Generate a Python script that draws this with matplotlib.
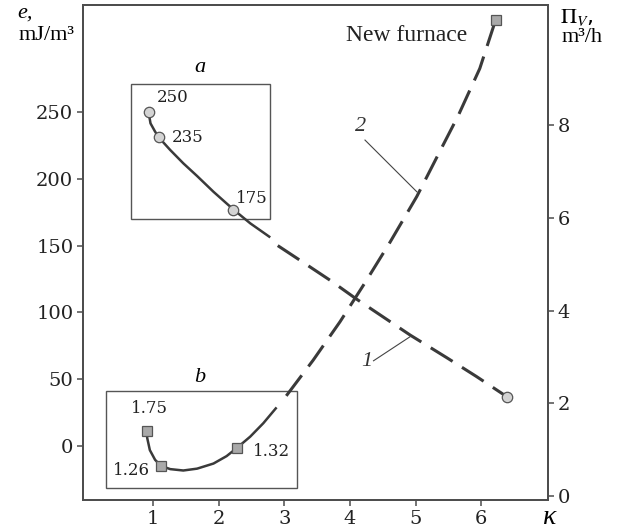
import matplotlib
matplotlib.use("Agg")
import matplotlib.pyplot as plt
from matplotlib.patches import Rectangle

plt.rcParams['lines.scale_dashes'] = False

# curve 1: specific energy e, mJ/m3 (left axis)
k1_solid = [0.93, 0.96, 1.03, 1.09, 1.26, 1.46, 1.67, 1.92, 2.22, 2.48, 2.77]
e1_solid = [250, 241.5, 235.3, 230.8, 221.6, 211.6, 202.1, 190.3, 177.2, 166.7, 156.7]
k1_dash = [2.90, 3.24, 3.70, 4.10, 4.92, 5.48, 5.93, 6.39]
e1_dash = [150, 139, 124, 110, 83, 66, 52, 37]
k1_pts = [0.93, 1.09, 2.22, 6.39]
e1_pts = [250, 231, 177, 37]
e1_labels = ["250", "235", "175"]

# curve 2: productivity Pi_V, m3/h (right axis)
k2_solid = [0.90, 0.91, 0.95, 1.03, 1.12, 1.26, 1.46, 1.67, 1.92, 2.12, 2.28, 2.48, 2.68, 2.87]
v2_solid = [1.40, 1.25, 0.99, 0.78, 0.65, 0.58, 0.55, 0.59, 0.70, 0.86, 1.04, 1.28, 1.57, 1.89]
k2_dash = [3.03, 3.44, 3.85, 4.23, 4.61, 5.02, 5.37, 5.65, 5.98, 6.22]
v2_dash = [2.16, 2.93, 3.76, 4.60, 5.47, 6.46, 7.43, 8.20, 9.22, 10.26]
k2_pts = [0.90, 1.12, 2.28, 6.22]
v2_pts = [1.40, 0.65, 1.04, 10.26]
v2_labels = ["1.75", "1.26", "1.32"]

xticks = [1, 2, 3, 4, 5, 6]
eticks = [0, 50, 100, 150, 200, 250]
vticks = [0, 2, 4, 6, 8]

line_c = '#3a3a3a'
spine_c = '#4d4d4d'
serif = 'Liberation Serif'
tickfont = 'DejaVu Serif'

fig = plt.figure(figsize=(6.19, 5.31), dpi=100)
ax = fig.add_axes([0.1341, 0.0584, 0.7512, 0.9322])
ax2 = ax.twinx()

ax.set_xlim(-0.069, 7.02)
ax.set_ylim(-40.4, 330.1)
ax2.set_ylim(-0.086, 10.59)

# curve 1
ax.plot(k1_solid, e1_solid, color=line_c, lw=1.8)
ax.plot(k1_dash, e1_dash, color=line_c, lw=2.2, dashes=(18.5, 8))
ax.plot(k1_pts, e1_pts, 'o', ms=7.5, mfc='#d4d4d4', mec='#555555', mew=0.9, zorder=5)

# curve 2
ax2.plot(k2_solid, v2_solid, color=line_c, lw=1.8)
ax2.plot(k2_dash, v2_dash, color=line_c, lw=2.2, dashes=(18.5, 8))
ax2.plot(k2_pts, v2_pts, 's', ms=6.5, mfc='#a9a9a9', mec='#555555', mew=0.9, zorder=5)

# boxes a and b
ax.add_patch(Rectangle((0.66, 169.9), 2.12, 100.8, fill=False, ec='#555555', lw=1.0))
ax.add_patch(Rectangle((0.277, -31.7), 2.913, 73.1, fill=False, ec='#555555', lw=1.0))
ax.text(1.715, 283, 'a', fontsize=16, family=serif, style='italic', ha='center', va='center')
ax.text(1.715, 51, 'b', fontsize=16, family=serif, style='italic', ha='center', va='center')

# point labels
for (x, y), s in zip([(1.06, 260.5), (1.29, 231), (2.26, 185.6)], e1_labels):
    ax.text(x, y, s, fontsize=12, family=tickfont, ha='left', va='center', color='#222222')
for (x, y), s in zip([(0.95, 28.4), (0.67, -18), (2.80, -4.3)], v2_labels):
    ax.text(x, y, s, fontsize=12, family=tickfont, ha='center', va='center', color='#222222')

ax.text(4.86, 307, 'New furnace', fontsize=17, family=serif, ha='center', va='center', color='#222222')

# curve numbers with leaders
ax.text(4.16, 239, '2', fontsize=16, family=serif, style='italic', ha='center', va='center', color='#333333')
ax.plot([4.23, 5.02], [229, 190.3], color='#444444', lw=0.8)
ax.text(4.26, 63, '1', fontsize=16, family=serif, style='italic', ha='center', va='center', color='#333333')
ax.plot([4.36, 4.92], [63.8, 81.9], color='#444444', lw=0.8)

# ticks
ax.set_xticks(xticks)
ax.set_yticks(eticks)
ax2.set_yticks(vticks)
for a in (ax, ax2):
    a.tick_params(direction='out', length=4, width=1.1, color=spine_c, labelsize=14, pad=3)
    for lab in a.get_xticklabels() + a.get_yticklabels():
        lab.set_family(tickfont)
        lab.set_color('#222222')
    for sp in a.spines.values():
        sp.set_color(spine_c)
        sp.set_linewidth(1.3)

# axis titles
fig.text(17 / 619, 1 - 13 / 531, 'e,', fontsize=16, family=serif, style='italic', ha='left', va='center')
fig.text(46 / 619, 1 - 36 / 531, 'mJ/m³', fontsize=16, family=serif, ha='center', va='center')
fig.text(560 / 619, 1 - 18 / 531, r'$\Pi_V$,', fontsize=16, ha='left', va='center',
         math_fontfamily='stix')
fig.text(582 / 619, 1 - 38 / 531, 'm³/h', fontsize=16, family=serif, ha='center', va='center')
fig.text(550 / 619, 1 - 518 / 531, 'κ', fontsize=20, family=serif, style='italic', ha='center', va='center')

fig.savefig('out.png', dpi=100)
